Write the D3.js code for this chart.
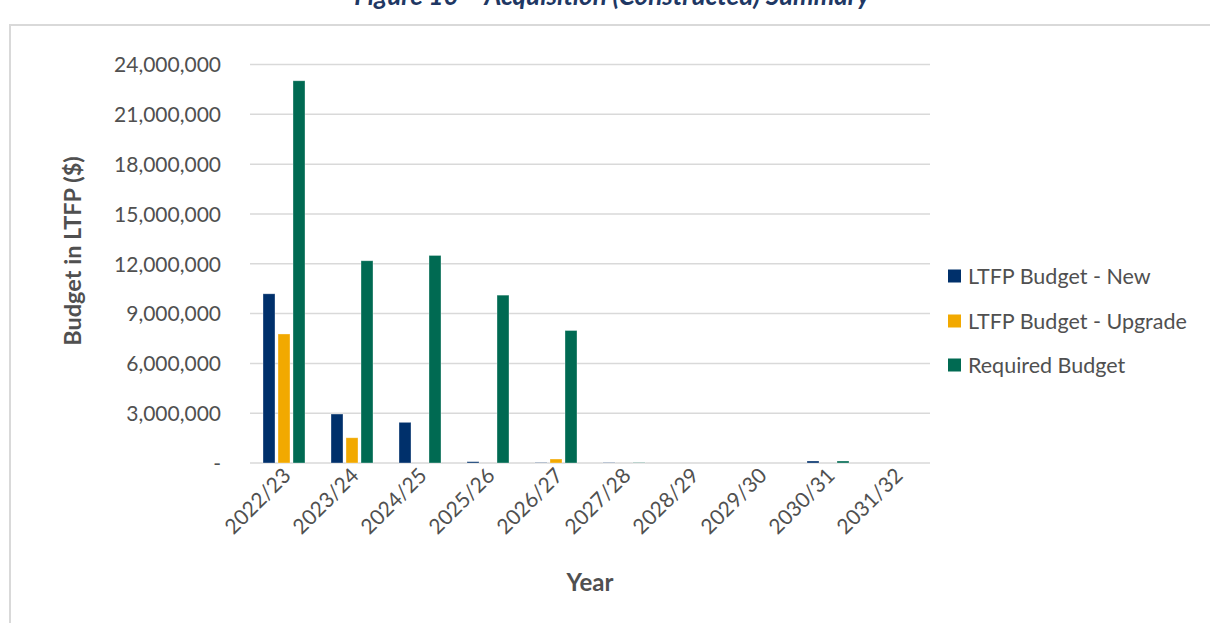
<!DOCTYPE html>
<html>
<head>
<meta charset="utf-8">
<script src="https://cdn.jsdelivr.net/npm/d3@7"></script>
<style>
  html, body { margin: 0; padding: 0; background: #fff; }
  svg { display: block; }
</style>
</head>
<body>
<svg id="chart" width="1210" height="623"></svg>
<script>
// Acquisition (constructed) budget by financial year
const years = ["2022/23", "2023/24", "2024/25", "2025/26", "2026/27",
               "2027/28", "2028/29", "2029/30", "2030/31", "2031/32"];
const ltfpNew     = [10190000, 2950000, 2450000, 80000, 20000, 25000, 0, 0, 120000, 0];
const ltfpUpgrade = [7770000, 1520000, 0, 0, 240000, 0, 0, 0, 0, 0];
const required    = [23020000, 12180000, 12500000, 10110000, 7980000, 25000, 0, 0, 120000, 0];
const seriesNames = ["LTFP Budget - New", "LTFP Budget - Upgrade", "Required Budget"];
const seriesColors = ["#00306B", "#F2A900", "#006A52"];
const yTicks = [0, 3000000, 6000000, 9000000, 12000000, 15000000, 18000000, 21000000, 24000000];

const svg = d3.select("#chart");
const font = "Lato, 'Open Sans', sans-serif";
const textGrey = "#505050";

// Chart frame
svg.append("path")
  .attr("d", "M10,623 V25 H1210")
  .attr("fill", "none")
  .attr("stroke", "#d9d9d9")
  .attr("stroke-width", 2);

// Title (runs off the top of the page)
svg.append("text")
  .attr("x", 612).attr("y", 5)
  .attr("text-anchor", "middle")
  .attr("font-family", font)
  .attr("font-style", "italic")
  .attr("font-weight", "bold")
  .attr("font-size", 26)
  .attr("fill", "#1F3864")
  .text("Figure 10 – Acquisition (Constructed) Summary");

const plot = { left: 250, right: 930, top: 64.5, bottom: 463 };

const x = d3.scaleBand().domain(years).range([plot.left, plot.right]);
const y = d3.scaleLinear().domain([0, 24000000]).range([plot.bottom, plot.top]);

// Gridlines
svg.append("g")
  .selectAll("line")
  .data(yTicks)
  .join("line")
  .attr("x1", plot.left).attr("x2", plot.right)
  .attr("y1", d => y(d)).attr("y2", d => y(d))
  .attr("stroke", "#d9d9d9")
  .attr("stroke-width", 1.5);

// Y axis labels
const yAxis = svg.append("g")
  .attr("transform", `translate(${plot.left - 29},0)`)
  .call(d3.axisLeft(y).tickValues(yTicks).tickSize(0).tickPadding(0)
    .tickFormat(d => d === 0 ? "-" : d3.format(",")(d)));
yAxis.select(".domain").remove();
yAxis.selectAll("text")
  .attr("font-family", font)
  .attr("font-size", 21)
  .attr("fill", textGrey)
  .attr("dy", "0.35em");

// Bars
const barW = 12, barStep = 15;
const seriesData = [ltfpNew, ltfpUpgrade, required];
const groups = svg.append("g");
seriesData.forEach((vals, si) => {
  groups.append("g")
    .selectAll("rect")
    .data(vals.map((v, i) => ({ year: years[i], v })))
    .join("rect")
    .filter(d => d.v > 0)
    .attr("x", d => x(d.year) + x.bandwidth() / 2 + (si - 1) * barStep - barW / 2)
    .attr("y", d => y(d.v))
    .attr("width", barW)
    .attr("height", d => Math.max(plot.bottom - y(d.v), 0))
    .attr("fill", seriesColors[si])
    .attr("stroke", "rgba(255,255,255,0.45)")
    .attr("stroke-width", 0.75);
});

// X axis labels
const xAxis = svg.append("g")
  .attr("transform", `translate(0,${plot.bottom})`)
  .call(d3.axisBottom(x).tickSize(0).tickPadding(0));
xAxis.select(".domain").remove();
xAxis.selectAll("text")
  .attr("font-family", font)
  .attr("font-size", 21)
  .attr("fill", textGrey)
  .attr("text-anchor", "end")
  .attr("dy", null)
  .attr("transform", "translate(8,14) rotate(-45)");

// Axis titles
svg.append("text")
  .attr("transform", "translate(81,251) rotate(-90)")
  .attr("text-anchor", "middle")
  .attr("font-family", font)
  .attr("font-weight", "bold")
  .attr("font-size", 23.5)
  .attr("fill", textGrey)
  .text("Budget in LTFP ($)");

svg.append("text")
  .attr("x", 590).attr("y", 591)
  .attr("text-anchor", "middle")
  .attr("font-family", font)
  .attr("font-weight", "bold")
  .attr("font-size", 24)
  .attr("fill", textGrey)
  .text("Year");

// Legend
const legend = svg.append("g");
const legendY = [276, 321, 365];
seriesNames.forEach((name, i) => {
  legend.append("rect")
    .attr("x", 948).attr("y", legendY[i] - 6.5)
    .attr("width", 13).attr("height", 13)
    .attr("fill", seriesColors[i]);
  legend.append("text")
    .attr("x", 968).attr("y", legendY[i])
    .attr("dy", "0.35em")
    .attr("font-family", font)
    .attr("font-size", 21.5)
    .attr("fill", textGrey)
    .text(name);
});
</script>
</body>
</html>
